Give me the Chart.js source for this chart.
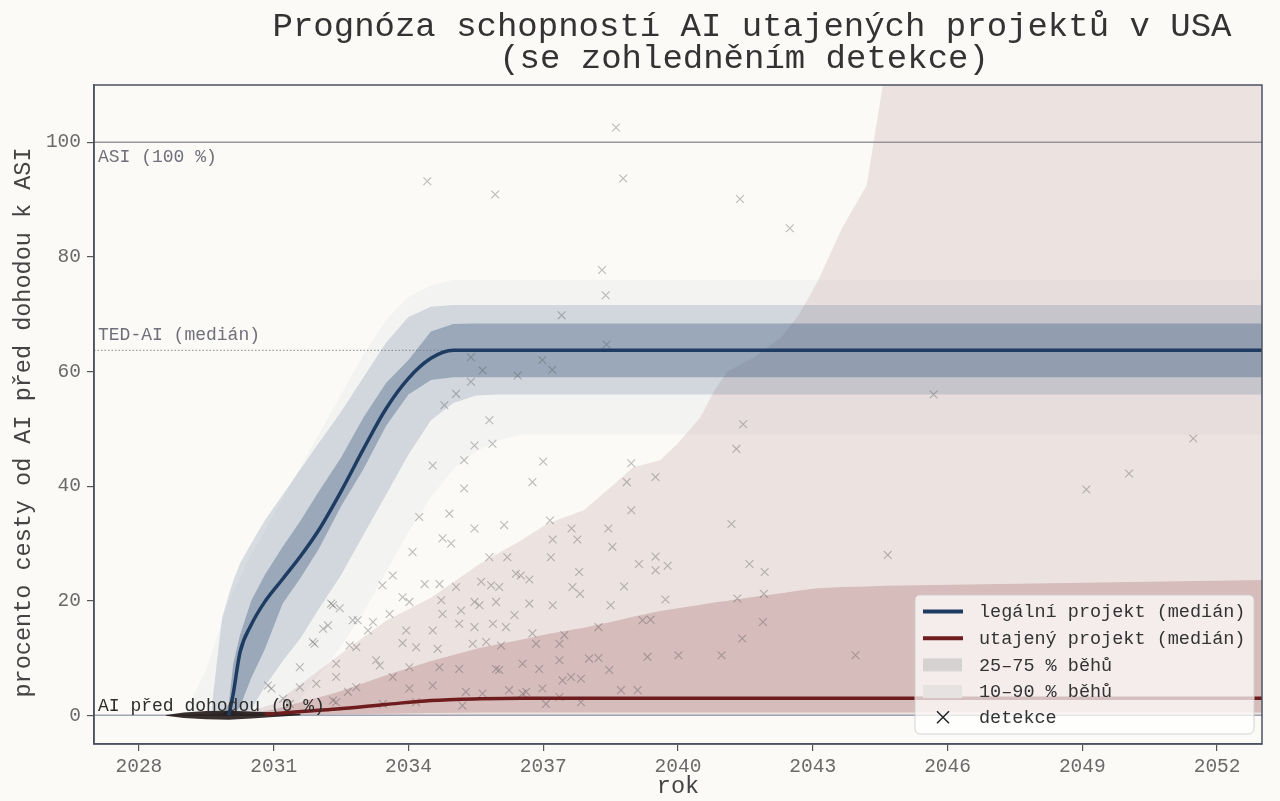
<!DOCTYPE html>
<html><head><meta charset="utf-8">
<script src="https://cdn.jsdelivr.net/npm/chart.js@4.4.1/dist/chart.umd.min.js"></script>
<style>html,body{margin:0;padding:0;background:#fbfaf7;overflow:hidden}#wrap{width:1280px;height:801px}</style>
</head><body><div id="wrap"><canvas id="c" width="1280" height="801"></canvas></div>
<script>
const titleLines = ['Prognóza schopností AI utajených projektů v USA', '(se zohledněním detekce)'];
const xAxisTitle = 'rok';
const yAxisTitle = 'procento cesty od AI před dohodou k ASI';
const xTicks = [2028, 2031, 2034, 2037, 2040, 2043, 2046, 2049, 2052];
const yTicks = [0, 20, 40, 60, 80, 100];

// legal project percentiles
const legalYears  = [2029.6, 2029.85, 2030.0, 2030.1, 2030.25, 2030.5, 2030.8, 2031.2, 2031.6, 2032.0, 2032.5, 2033.0, 2033.5, 2034.0, 2034.5, 2035.0, 2035.5, 2036.0, 2053.0];
const legalP90    = [0, 17, 21, 23.5, 26.5, 30, 34, 38.5, 43, 47.5, 53, 59, 65, 69.5, 71.3, 71.6, 71.6, 71.6, 71.6];
const legalP75    = [0, 0, 2, 9, 14, 20, 24.5, 29.4, 34, 39, 45, 52, 58, 62, 67, 68.3, 68.4, 68.4, 68.4];
const legalP25    = [0, 0, 0, 0, 1.5, 6.5, 11.5, 19.5, 24, 29, 36.5, 43, 50.5, 56, 58.5, 59, 59, 59, 59];
const legalP10    = [0, 0, 0, 0, 0, 1, 5, 9.5, 13.5, 18.5, 24.5, 31.5, 38.5, 45.5, 51.5, 54.5, 55.8, 56, 56];
const legalMedianYears = [2030.0, 2030.1, 2030.25, 2030.5, 2030.8, 2031.2, 2031.6, 2032.0, 2032.5, 2033.0, 2033.5, 2034.0, 2034.5, 2035.0, 2035.5, 2053.0];
const legalMedian      = [0, 3.8, 11, 15.8, 19.8, 23.8, 27.8, 32.3, 39.1, 46.5, 53.5, 58.8, 62.3, 63.7, 63.7, 63.7];

// faint spread of individual legal runs (outermost visible trajectories)
const legalRunsYears = [2029.0, 2029.5, 2030.0, 2030.5, 2031.0, 2031.5, 2032.0, 2032.5, 2033.0, 2033.5, 2034.0, 2034.5, 2035.0, 2035.5, 2036.0, 2036.5, 2053.0];
const legalRunsUpper = [0, 8, 20, 28, 35, 42, 49, 56, 63, 69, 73, 75, 76, 76, 76, 76, 76];
const legalRunsLower = [0, 0, 0, 0, 0, 2, 7, 12, 18, 25, 32, 38, 43, 46, 48, 49, 49];

// covert project percentiles
const covertYears  = [2028.6, 2029.5, 2030.5, 2031.0, 2031.7, 2032.4, 2033.5, 2034.5, 2035.6, 2036.5, 2037.1, 2037.9, 2038.5, 2039.0, 2039.6, 2040.0, 2040.5, 2040.8, 2041.1, 2041.7, 2042.3, 2042.7, 2043.1, 2043.65, 2044.2, 2044.6, 2053.0];
const covertP90    = [0, 0.3, 0.8, 2, 6, 10.2, 16.5, 20.5, 26.5, 30.5, 33.5, 35.8, 39.8, 43.3, 44.5, 47.5, 52, 56.5, 60, 62.5, 66, 70, 75.6, 85, 92.5, 112, 112];
const covertP75    = [0, 0.1, 0.4, 1, 2.5, 4, 7, 9.5, 11.8, 13.2, 14.2, 15.3, 16.3, 17.2, 18.2, 18.7, 19.3, 19.7, 20.0, 20.7, 21.3, 21.8, 22.2, 22.4, 22.5, 22.6, 23.6];
const covertP25    = [0, 0, 0, 0.05, 0.1, 0.2, 0.3, 0.4, 0.5, 0.5, 0.5, 0.5, 0.5, 0.5, 0.5, 0.5, 0.5, 0.5, 0.5, 0.5, 0.5, 0.5, 0.5, 0.5, 0.5, 0.5, 0.5];
const covertP10    = [0, 0, 0, 0, 0, 0, 0, 0, 0, 0, 0, 0, 0, 0, 0, 0, 0, 0, 0, 0, 0, 0, 0, 0, 0, 0, 0];
const covertMedianYears = [2030.8, 2031.0, 2031.7, 2032.4, 2033.5, 2034.5, 2035.6, 2036.5, 2053.0];
const covertMedian      = [0.2, 0.3, 0.7, 1.1, 1.9, 2.6, 2.9, 3.0, 3.0];

// dense cluster of covert runs sitting at ~0 before takeoff
const earlyRunYears = [2028.6, 2029.0, 2029.5, 2030.0, 2030.5, 2031.0, 2031.6];
const earlyRunUpper = [0.05, 0.5, 0.75, 0.8, 0.65, 0.5, 0.3];
const earlyRunLower = [-0.05, -0.45, -0.7, -0.75, -0.55, -0.3, 0];

// reference levels
const refValues = [100, 63.7, 0];
const refLabels = ['ASI (100 %)', 'TED-AI (medián)', 'AI před dohodou (0 %)'];

// detections (year, percent)
const detectionYears = [2038.62,2034.42,2038.78,2035.93,2041.38,2042.49,2038.31,2038.39,2037.41,2038.41,2036.98,2037.2,2036.43,2035.39,2035.65,2035.39,2035.06,2034.8,2045.69,2035.8,2041.45,2041.3,2035.47,2035.87,2035.24,2034.54,2037.0,2038.96,2051.47,2050.04,2049.09,2035.24,2036.76,2038.86,2039.5,2038.96,2034.24,2034.91,2035.47,2036.13,2037.15,2037.63,2038.45,2041.19,2034.76,2034.95,2037.21,2037.76,2038.54,2044.67,2034.09,2035.8,2036.2,2037.17,2039.5,2039.13,2039.5,2039.77,2041.59,2041.93,2037.8,2036.5,2036.69,2036.39,2033.42,2034.36,2034.69,2035.06,2035.62,2035.84,2036.02,2037.65,2038.8,2037.82,2041.91,2033.65,2032.28,2032.47,2034.02,2035.58,2034.73,2035.47,2035.95,2036.69,2037.21,2038.5,2039.72,2041.32,2033.87,2036.36,2032.87,2033.58,2034.76,2035.17,2035.88,2036.17,2038.23,2039.21,2039.39,2041.89,2032.1,2033.1,2034.54,2035.13,2033.95,2035.47,2036.76,2037.47,2041.43,2032.21,2032.76,2033.21,2031.87,2032.69,2033.87,2035.73,2036.84,2034.17,2034.65,2035.43,2036.06,2037.36,2031.91,2032.84,2038.02,2038.23,2039.32,2040.01,2040.97,2043.95,2031.58,2032.39,2033.36,2034.69,2036.02,2034.02,2035.13,2035.95,2036.54,2036.91,2037.36,2038.47,2033.28,2030.87,2031.95,2032.84,2034.02,2035.28,2036.54,2034.54,2035.65,2036.24,2036.62,2036.98,2037.43,2037.62,2037.84,2039.1,2038.73,2032.39,2032.65,2033.65,2031.58,2031.21,2032.39,2033.43,2037.06,2034.17,2035.2,2037.36,2037.84,2032.32,2031.36,2030.95,2032.32];
const detectionValues = [102.6,93.2,93.7,90.9,90.1,85.0,77.7,73.3,69.8,64.7,62.0,60.3,59.3,62.5,60.2,58.2,56.1,54.1,56.0,51.5,50.8,46.5,47.1,47.4,44.5,43.6,44.3,44.0,48.3,42.2,39.4,39.6,40.7,40.7,41.6,35.8,34.6,35.2,32.6,33.2,34.0,32.6,32.6,33.4,30.9,30.0,30.7,30.7,29.4,28.0,28.5,27.6,27.6,27.6,27.7,26.4,25.3,26.1,26.4,25.0,25.0,24.4,23.7,24.7,22.7,22.9,22.9,22.4,23.3,22.7,22.4,22.4,22.5,21.2,21.2,24.4,19.5,18.7,19.8,19.2,20.1,19.8,19.8,19.5,19.2,19.2,20.2,20.4,20.6,17.5,16.6,17.7,17.7,18.3,16.0,15.4,15.4,16.6,16.7,16.3,15.1,14.8,14.8,16.0,14.8,15.4,14.3,14.0,13.4,15.7,16.6,16.3,12.8,12.2,12.6,12.8,12.5,11.9,11.6,12.5,12.2,12.5,12.5,11.9,9.9,10.0,10.2,10.5,10.5,10.5,8.4,9.0,8.7,8.4,7.9,8.4,8.1,8.1,9.0,8.1,9.6,7.9,9.6,5.2,5.5,4.9,4.7,4.1,3.8,5.2,3.8,4.4,4.1,4.7,6.1,6.7,6.4,4.4,4.4,6.7,4.1,6.7,4.9,2.9,2.3,2.0,2.0,2.3,1.7,3.2,2.3,2.6,2.0,4.7,19.2];

const legendLabels = ['legální projekt (medián)', 'utajený projekt (medián)', '25–75 % běhů', '10–90 % běhů', 'detekce'];

const MONO = '"Liberation Mono", "DejaVu Sans Mono", monospace';
const BLUE = '#1e3b62';
const RED = '#6e1c1e';

function pts(xs, ys) { return xs.map((x, i) => ({ x: x, y: ys[i] })); }
function hidden(label, xs, ys, order) {
  return { label, data: pts(xs, ys), borderWidth: 0, borderColor: 'rgba(0,0,0,0)', pointRadius: 0, fill: false, order, clip: 0, tension: 0 };
}
function band(label, xs, ys, color, order) {
  return { label, data: pts(xs, ys), borderWidth: 0, borderColor: 'rgba(0,0,0,0)', pointRadius: 0, fill: '-1', backgroundColor: color, order, clip: 0, tension: 0 };
}
function refLine(v, color, width, dash) {
  return { label: 'ref' + v, data: [{ x: 2027, y: v }, { x: 2053, y: v }], borderColor: color, borderWidth: width, borderDash: dash, pointRadius: 0, fill: false, order: 70, clip: 0 };
}

const datasets = [
  hidden('covP10', covertYears, covertP10, 100),
  band('covP90', covertYears, covertP90, 'rgba(175,130,125,0.19)', 100),
  hidden('covP25', covertYears, covertP25, 95),
  band('covP75', covertYears, covertP75, 'rgba(160,100,100,0.30)', 95),
  hidden('legRunsLower', legalRunsYears, legalRunsLower, 92),
  band('legRunsUpper', legalRunsYears, legalRunsUpper, 'rgba(70,100,140,0.045)', 92),
  hidden('legP10', legalYears, legalP10, 90),
  band('legP90', legalYears, legalP90, 'rgba(60,90,130,0.19)', 90),
  hidden('legP25', legalYears, legalP25, 85),
  band('legP75', legalYears, legalP75, 'rgba(55,85,125,0.36)', 85),
  refLine(refValues[0], 'rgba(140,140,148,0.9)', 1.5, []),
  refLine(refValues[1], 'rgba(120,120,130,0.9)', 1, [1.5, 2]),
  refLine(refValues[2], 'rgba(150,155,168,0.9)', 1.5, []),
  {
    label: 'detekce', data: pts(detectionYears, detectionValues), showLine: false,
    pointStyle: 'crossRot', pointRadius: 5.5, borderColor: 'rgba(85,85,85,0.38)', borderWidth: 1.1,
    backgroundColor: 'rgba(0,0,0,0)', order: 50, clip: 0
  },
  hidden('earlyLower', earlyRunYears, earlyRunLower, 40),
  band('earlyUpper', earlyRunYears, earlyRunUpper, 'rgba(22,12,12,0.85)', 40),
  { label: 'covMedian', data: pts(covertMedianYears, covertMedian), borderColor: RED, borderWidth: 3.5, pointRadius: 0, fill: false, order: 20, clip: 0, tension: 0.2, cubicInterpolationMode: 'monotone' },
  { label: 'legMedian', data: pts(legalMedianYears, legalMedian), borderColor: BLUE, borderWidth: 3.5, pointRadius: 0, fill: false, order: 10, clip: 0, tension: 0.25, cubicInterpolationMode: 'monotone' }
];

const overlay = {
  id: 'overlay',
  afterDatasetsDraw(chart) {
    const ctx = chart.ctx, a = chart.chartArea, ys = chart.scales.y;
    ctx.save();
    // frame
    ctx.strokeStyle = '#4b5263'; ctx.lineWidth = 1.5;
    ctx.strokeRect(a.left, a.top, a.right - a.left, a.bottom - a.top);
    // reference labels
    ctx.font = '18px ' + MONO; ctx.textAlign = 'left'; ctx.textBaseline = 'alphabetic';
    ctx.fillStyle = '#6f707a'; ctx.fillText(refLabels[0], a.left + 4, ys.getPixelForValue(refValues[0]) + 20);
    ctx.fillText(refLabels[1], a.left + 4, ys.getPixelForValue(refValues[1]) - 10);
    ctx.fillStyle = '#2c2c2c'; ctx.fillText(refLabels[2], a.left + 4, ys.getPixelForValue(refValues[2]) - 4);
    // legend
    const lx = 915, ly = 595, lw = 339, lh = 139;
    ctx.beginPath(); ctx.roundRect(lx, ly, lw, lh, 5);
    ctx.fillStyle = 'rgba(255,255,255,0.72)'; ctx.fill();
    ctx.strokeStyle = 'rgba(205,205,205,0.9)'; ctx.lineWidth = 1; ctx.stroke();
    const rows = [611.5, 638.2, 664.9, 691.6, 717.3];
    ctx.lineWidth = 4; ctx.lineCap = 'butt';
    ctx.strokeStyle = BLUE; ctx.beginPath(); ctx.moveTo(923, rows[0]); ctx.lineTo(963, rows[0]); ctx.stroke();
    ctx.strokeStyle = RED; ctx.beginPath(); ctx.moveTo(923, rows[1]); ctx.lineTo(963, rows[1]); ctx.stroke();
    ctx.fillStyle = '#d6d2d1'; ctx.fillRect(923, rows[2] - 6.5, 39, 13);
    ctx.fillStyle = '#e6e2e1'; ctx.fillRect(923, rows[3] - 6.5, 39, 13);
    ctx.strokeStyle = '#222'; ctx.lineWidth = 1.5; ctx.beginPath();
    ctx.moveTo(937, rows[4] - 6); ctx.lineTo(949, rows[4] + 6); ctx.moveTo(949, rows[4] - 6); ctx.lineTo(937, rows[4] + 6); ctx.stroke();
    ctx.fillStyle = '#333'; ctx.font = '18.5px ' + MONO; ctx.textBaseline = 'middle';
    legendLabels.forEach((t, i) => ctx.fillText(t, 979, rows[i] + 1));
    // titles
    ctx.fillStyle = '#333'; ctx.textAlign = 'center'; ctx.textBaseline = 'alphabetic';
    ctx.font = '34px ' + MONO;
    ctx.fillText(titleLines[0], 752, 36);
    ctx.fillText(titleLines[1], 744, 68);
    ctx.fillStyle = '#444'; ctx.font = '23.5px ' + MONO; ctx.textBaseline = 'middle';
    ctx.fillText(xAxisTitle, (a.left + a.right) / 2, 787);
    ctx.translate(24, (a.top + a.bottom) / 2 + 8); ctx.rotate(-Math.PI / 2);
    ctx.fillText(yAxisTitle, 0, 0);
    ctx.restore();
  }
};

new Chart(document.getElementById('c'), {
  type: 'line',
  data: { datasets },
  options: {
    responsive: false, animation: false, devicePixelRatio: 1, events: [],
    layout: { padding: { top: 85, right: 18, left: 0, bottom: 0 } },
    plugins: { legend: { display: false }, tooltip: { enabled: false }, title: { display: false } },
    scales: {
      x: {
        type: 'linear', min: 2027, max: 2053,
        afterBuildTicks: s => { s.ticks = xTicks.map(v => ({ value: v })); },
        afterFit: s => { s.height = 57; },
        ticks: { font: { family: MONO, size: 19.5 }, color: '#6a6a6a', padding: 4, maxRotation: 0, autoSkip: false, callback: v => String(v) },
        grid: { drawOnChartArea: false, tickLength: 7, color: '#555', lineWidth: 1.2 },
        border: { color: '#4b5263', width: 1.5 }
      },
      y: {
        type: 'linear', min: -5, max: 110,
        afterBuildTicks: s => { s.ticks = yTicks.map(v => ({ value: v })); },
        afterFit: s => { s.width = 94; },
        ticks: { font: { family: MONO, size: 19.5 }, color: '#6a6a6a', padding: 6, autoSkip: false, callback: v => String(v) },
        grid: { drawOnChartArea: false, tickLength: 7, color: '#555', lineWidth: 1.2 },
        border: { color: '#4b5263', width: 1.5 }
      }
    }
  },
  plugins: [overlay]
});
</script></body></html>
